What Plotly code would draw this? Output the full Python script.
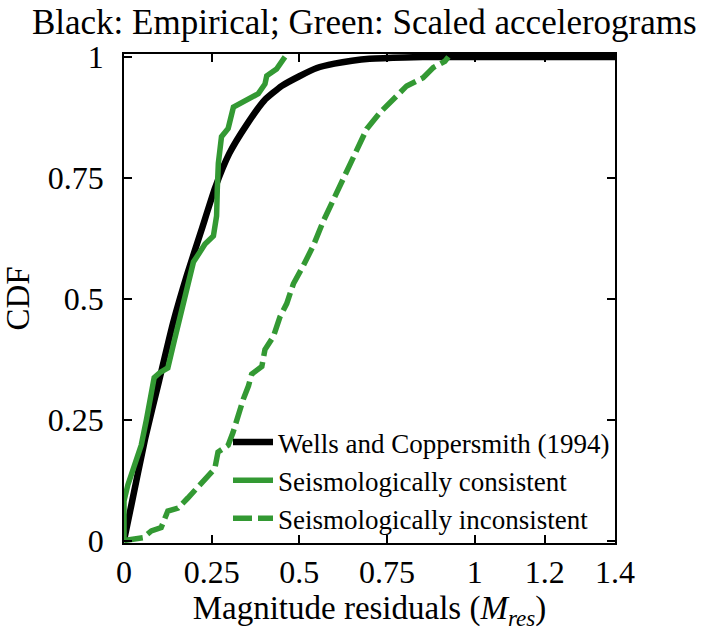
import plotly.graph_objects as go

# Empirical CDF (Wells and Coppersmith 1994)
wc_x = [0, 0.02, 0.06, 0.10, 0.14, 0.18, 0.22, 0.26, 0.30, 0.35, 0.40, 0.45, 0.50, 0.55, 0.60, 0.65, 0.70, 0.80, 0.90, 1.40]
wc_y = [0, 0.07, 0.21, 0.33, 0.45, 0.55, 0.64, 0.73, 0.80, 0.86, 0.91, 0.94, 0.96, 0.977, 0.986, 0.992, 0.996, 0.999, 1.0, 1.0]

# Seismologically consistent
sc_x = [0, 0, 0.011, 0.03, 0.049, 0.064, 0.078, 0.086, 0.102, 0.125, 0.144, 0.163, 0.179, 0.198, 0.217,
        0.231, 0.255, 0.264, 0.266, 0.269, 0.278, 0.297, 0.312, 0.35, 0.383, 0.402, 0.407, 0.435, 0.459]
sc_y = [0, 0.082, 0.115, 0.156, 0.197, 0.25, 0.306, 0.337, 0.347, 0.357, 0.415, 0.47, 0.521, 0.576, 0.597,
        0.613, 0.63, 0.671, 0.726, 0.78, 0.835, 0.852, 0.896, 0.91, 0.924, 0.944, 0.961, 0.975, 1.0]

# Seismologically inconsistent
si_x = [0, 0.054, 0.078, 0.106, 0.125, 0.154, 0.182, 0.206, 0.23, 0.259, 0.268, 0.297, 0.311, 0.325,
        0.34, 0.355, 0.364, 0.393, 0.402, 0.426, 0.445, 0.464, 0.483, 0.511, 0.54, 0.568, 0.597, 0.621,
        0.635, 0.659, 0.692, 0.73, 0.768, 0.806, 0.853, 0.882, 0.915, 0.925]
si_y = [0, 0.006, 0.02, 0.027, 0.061, 0.067, 0.088, 0.108, 0.125, 0.149, 0.183, 0.197, 0.224, 0.258,
        0.292, 0.32, 0.344, 0.36, 0.395, 0.422, 0.463, 0.49, 0.531, 0.568, 0.61, 0.66, 0.705, 0.742,
        0.763, 0.804, 0.851, 0.885, 0.913, 0.94, 0.957, 0.978, 0.991, 1.0]

x_ticks = [0, 0.25, 0.5, 0.75, 1, 1.2, 1.4]
x_ticktext = ["0", "0.25", "0.5", "0.75", "1", "1.2", "1.4"]
y_ticks = [0, 0.25, 0.5, 0.75, 1]
y_ticktext = ["0", "0.25", "0.5", "0.75", "1"]

GREEN = "#339933"
FONT = "Liberation Serif"

fig = go.Figure()
fig.add_trace(go.Scatter(x=wc_x, y=wc_y, mode="lines", name="Wells and Coppersmith (1994)",
                         line=dict(color="black", width=6.5, shape="spline", smoothing=0.5)))
fig.add_trace(go.Scatter(x=sc_x, y=sc_y, mode="lines", name="Seismologically consistent",
                         line=dict(color=GREEN, width=5.5)))
fig.add_trace(go.Scatter(x=si_x, y=si_y, mode="lines", name="Seismologically inconsistent",
                         line=dict(color=GREEN, width=5.5, dash="19px,6px")))

axis_common = dict(showline=True, linecolor="black", linewidth=1.5, mirror="ticks",
                   ticks="inside", ticklen=8, tickwidth=1.5, tickcolor="black",
                   showgrid=False, zeroline=False, automargin=False,
                   tickfont=dict(family=FONT, size=32, color="black"))

fig.update_layout(
    width=706, height=633,
    margin=dict(l=124, r=91, t=54, b=90),
    paper_bgcolor="white", plot_bgcolor="white",
    font=dict(family=FONT, color="black"),
    title=dict(text="Black: Empirical; Green: Scaled accelerograms",
               font=dict(family=FONT, size=35, color="black"),
               x=0.516, xref="container", xanchor="center",
               y=1 - 22 / 633, yref="container", yanchor="middle"),
    xaxis=dict(range=[0, 1.4], tickvals=x_ticks, ticktext=x_ticktext, ticklabelstandoff=0,
               title=dict(text="Magnitude residuals (<i>M</i><sub><i>res</i></sub>)",
                          font=dict(family=FONT, size=33, color="black"), standoff=2),
               **axis_common),
    yaxis=dict(range=[-0.005, 1.006], tickvals=y_ticks, ticktext=y_ticktext, ticklabelstandoff=12,
               title=dict(text="CDF", font=dict(family=FONT, size=33, color="black"), standoff=14),
               **axis_common),
    legend=dict(x=1.0, xanchor="right", y=0.0, yanchor="bottom",
                bgcolor="rgba(0,0,0,0)", borderwidth=0,
                font=dict(family=FONT, size=27, color="black"),
                tracegroupgap=0, itemwidth=40),
    showlegend=True,
)

fig.write_html("out.html", config={"displayModeBar": False},
               post_script="document.body.style.margin='0';")
